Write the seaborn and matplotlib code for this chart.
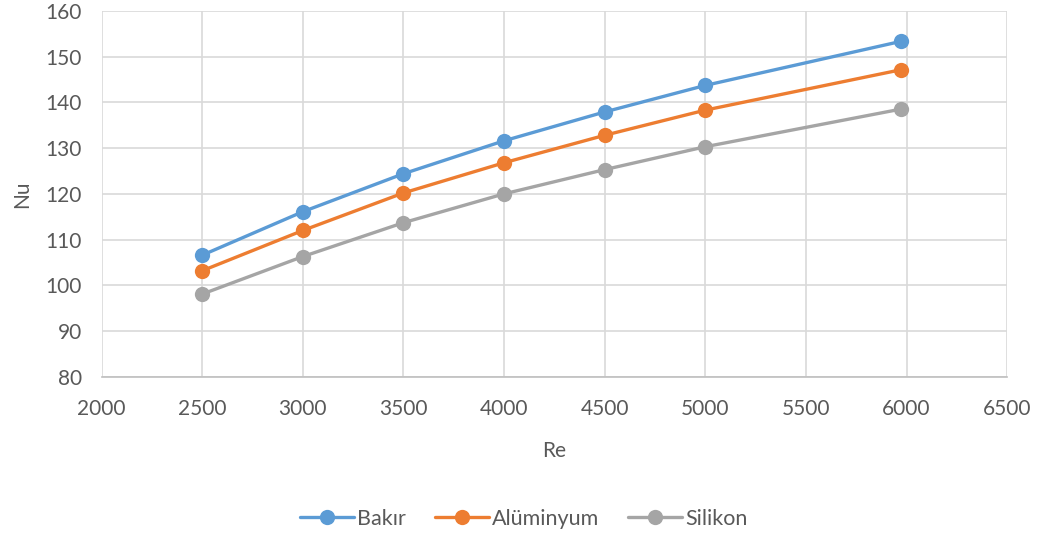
import pandas as pd
import matplotlib.pyplot as plt
import seaborn as sns

re_values = [2500, 3000, 3500, 4000, 4500, 5000, 5970]
bakir = [106.6, 116.1, 124.4, 131.6, 137.9, 143.7, 153.3]
aluminyum = [103.2, 112.0, 120.2, 126.8, 132.8, 138.3, 147.1]
silikon = [98.1, 106.3, 113.7, 120.0, 125.3, 130.3, 138.5]
series_names = ["Bakır", "Alüminyum", "Silikon"]
colors = ["#5B9BD5", "#ED7D31", "#A5A5A5"]

df = pd.DataFrame({"Re": re_values * 3,
                   "Nu": bakir + aluminyum + silikon,
                   "Malzeme": [n for n in series_names for _ in re_values]})

sns.set_style("white")
plt.rcParams['font.family'] = ['Lato', 'DejaVu Sans']

fig, ax = plt.subplots(figsize=(10.47, 5.40), dpi=100)
fig.subplots_adjust(left=0.097, right=0.962, top=0.98, bottom=0.302)

sns.lineplot(data=df, x="Re", y="Nu", hue="Malzeme", palette=colors,
             marker="o", markersize=11, markeredgewidth=0, linewidth=2.4, ax=ax)

ax.set_xlim(2000, 6500)
ax.set_ylim(80, 160)
ax.set_xticks(range(2000, 6501, 500))
ax.set_yticks(range(80, 161, 10))
ax.grid(True, color="#D9D9D9", linewidth=1.2)
ax.set_axisbelow(True)
for side in ["top", "right", "left"]:
    ax.spines[side].set_visible(False)
ax.spines["bottom"].set_color("#BFBFBF")
ax.spines["bottom"].set_linewidth(1.2)
ax.tick_params(axis="both", length=0, labelsize=15, labelcolor="#595959", pad=14)
ax.tick_params(axis="x", pad=16)
ax.set_xlabel("Re", fontsize=15, color="#595959", labelpad=16)
ax.set_ylabel("Nu", fontsize=15, color="#595959", labelpad=10)

# legend is centred on the figure, not the axes
ax.legend(loc="center", bbox_to_anchor=(0.466, -0.388), ncol=3, frameon=False,
          fontsize=15.5, labelcolor="#595959", handlelength=2.5, columnspacing=1.35,
          handletextpad=0.15)

plt.savefig("out.png")
